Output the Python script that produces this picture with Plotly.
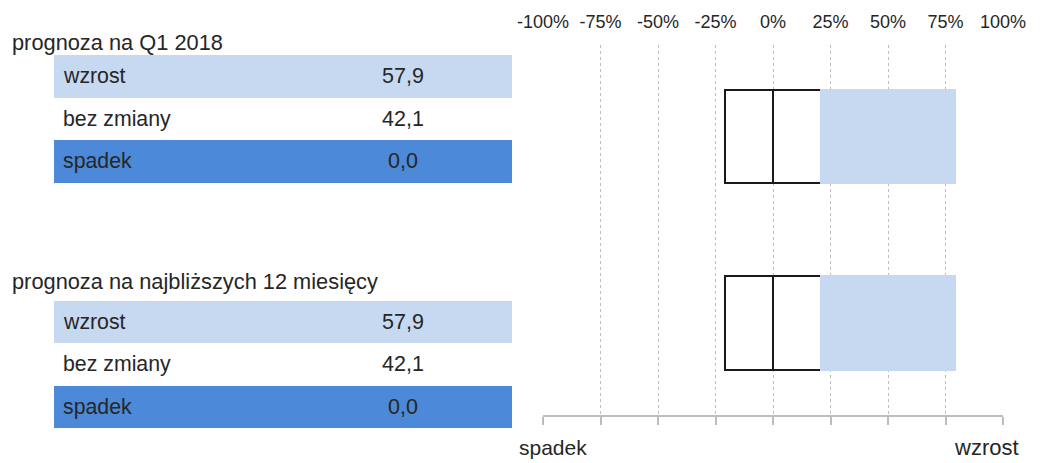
import plotly.graph_objects as go

# ---------------- data ----------------
groups = ["prognoza na Q1 2018", "prognoza na najbliższych 12 miesięcy"]
categories = ["wzrost", "bez zmiany", "spadek"]
values_q1 = [57.9, 42.1, 0.0]
values_12m = [57.9, 42.1, 0.0]
tick_vals = [-100, -75, -50, -25, 0, 25, 50, 75, 100]
tick_labels = ["-100%", "-75%", "-50%", "-25%", "0%", "25%", "50%", "75%", "100%"]
axis_end_labels = ["spadek", "wzrost"]

series = [values_q1, values_12m]

# ---------------- styles / layout ----------------
W, H = 1047, 463          # window size
OFF = 8                   # page body margin the figure is placed after
FW, FH = W - OFF, H - OFF # figure size
FONT = "Liberation Sans, Arial, sans-serif"
TXT = "#262626"
LIGHT = "#C6D9F1"
DARK = "#4C89D8"
row_colors = [LIGHT, "rgba(0,0,0,0)", DARK]
GRID = "#BDBDBD"

# chart area (window pixels)
px_left, px_right = 543, 1003
px_top, px_bot = 45, 415
bar_center0, bar_step = 136.5, 186.5
y_lo = (px_top - bar_center0) / bar_step
y_hi = (px_bot - bar_center0) / bar_step

# table geometry (window pixels)
title_y = [42.5, 281]
rows_top = [55, 300.7]
row_h = 42.5
cell_x0, cell_x1 = 54, 512
label_x, value_x, title_x = 61, 403, 10

fig = go.Figure()

# ----- table cells (drawn as bars on a pixel-scaled axis) -----
for g in range(len(groups)):
    for r, cat in enumerate(categories):
        yc = rows_top[g] + row_h * (r + 0.5)
        fig.add_trace(go.Bar(
            x=[cell_x1 - cell_x0], base=[cell_x0], y=[yc], width=[row_h],
            orientation="h", marker=dict(color=row_colors[r], line=dict(width=0)),
            xaxis="x3", yaxis="y3", showlegend=False, hoverinfo="skip"))

# ----- diverging bars -----
for g, vals in enumerate(series):
    up, neutral, down = vals
    yi = [g]
    # spadek
    fig.add_trace(go.Bar(
        x=[down], base=[-neutral / 2 - down], y=yi, width=0.5, orientation="h",
        marker=dict(color=DARK, line=dict(width=0)), name="spadek", showlegend=False))
    # bez zmiany (two halves around 0)
    for b in (-neutral / 2, 0):
        fig.add_trace(go.Bar(
            x=[neutral / 2], base=[b], y=yi, width=0.5, orientation="h",
            marker=dict(color="white", line=dict(color="#1A1A1A", width=2)),
            name="bez zmiany", showlegend=False))
    # wzrost
    fig.add_trace(go.Bar(
        x=[up], base=[neutral / 2], y=yi, width=0.5, orientation="h",
        marker=dict(color=LIGHT, line=dict(color=LIGHT, width=2)),
        name="wzrost", showlegend=False))

# ----- table texts -----
ann = []
for g, grp in enumerate(groups):
    ann.append(dict(x=title_x, y=title_y[g], xref="x3", yref="y3", text=grp,
                    xanchor="left", yanchor="middle", showarrow=False,
                    font=dict(size=21.8, color=TXT, family=FONT)))
    for r, cat in enumerate(categories):
        yc = rows_top[g] + row_h * (r + 0.5)
        ann.append(dict(x=label_x, y=yc, xref="x3", yref="y3", text=cat,
                        xanchor="left", yanchor="middle", showarrow=False,
                        font=dict(size=21.3, color=TXT, family=FONT)))
        ann.append(dict(x=value_x, y=yc, xref="x3", yref="y3",
                        text=f"{series[g][r]:.1f}".replace(".", ","),
                        xanchor="center", yanchor="middle", showarrow=False,
                        font=dict(size=21.5, color=TXT, family=FONT)))

ann.append(dict(x=517, y=447, xref="x3", yref="y3",
                text=axis_end_labels[0], xanchor="left", yanchor="middle",
                showarrow=False, font=dict(size=21, color=TXT, family=FONT)))
ann.append(dict(x=1021, y=447, xref="x3", yref="y3",
                text=axis_end_labels[1], xanchor="right", yanchor="middle",
                showarrow=False, font=dict(size=22, color=TXT, family=FONT)))

x_dom = [(px_left - OFF) / FW, (px_right - OFF) / FW]
y_dom = [1 - (px_bot - OFF) / FH, 1 - (px_top - OFF) / FH]

fig.update_layout(
    width=FW, height=FH, margin=dict(l=0, r=0, t=0, b=0, pad=0, autoexpand=False),
    paper_bgcolor="white", plot_bgcolor="rgba(0,0,0,0)",
    barmode="overlay", bargap=0, showlegend=False,
    font=dict(family=FONT, color=TXT),
    annotations=ann,
    xaxis=dict(domain=x_dom, range=[-100, 100], tickvals=tick_vals,
               showticklabels=False, showgrid=True, gridcolor=GRID, griddash="dot",
               gridwidth=1, zeroline=False, showline=True, linecolor=GRID,
               linewidth=1.5, ticks="outside", ticklen=8, tickcolor=GRID,
               tickwidth=1.5, anchor="y", fixedrange=True, automargin=False),
    xaxis2=dict(domain=x_dom, range=[-100, 100], overlaying="x", side="top",
                anchor="y", tickvals=tick_vals, ticktext=tick_labels,
                showgrid=False, zeroline=False, showline=False,
                ticks="outside", ticklen=9, tickcolor="rgba(0,0,0,0)",
                tickfont=dict(size=18, color=TXT, family=FONT), fixedrange=True,
                automargin=False),
    yaxis=dict(domain=y_dom, range=[y_hi, y_lo], visible=False, fixedrange=True,
               automargin=False),
    xaxis3=dict(domain=[0, 1], range=[OFF, W], visible=False, anchor="y3",
                fixedrange=True, automargin=False),
    yaxis3=dict(domain=[0, 1], range=[H, OFF], visible=False, anchor="x3",
                fixedrange=True, automargin=False),
)

# invisible trace so the top axis renders
fig.add_trace(go.Scatter(x=[-100, 100], y=[y_lo, y_lo], xaxis="x2", yaxis="y",
                         mode="markers", marker=dict(opacity=0), hoverinfo="skip",
                         showlegend=False))

fig.write_html("out.html")
